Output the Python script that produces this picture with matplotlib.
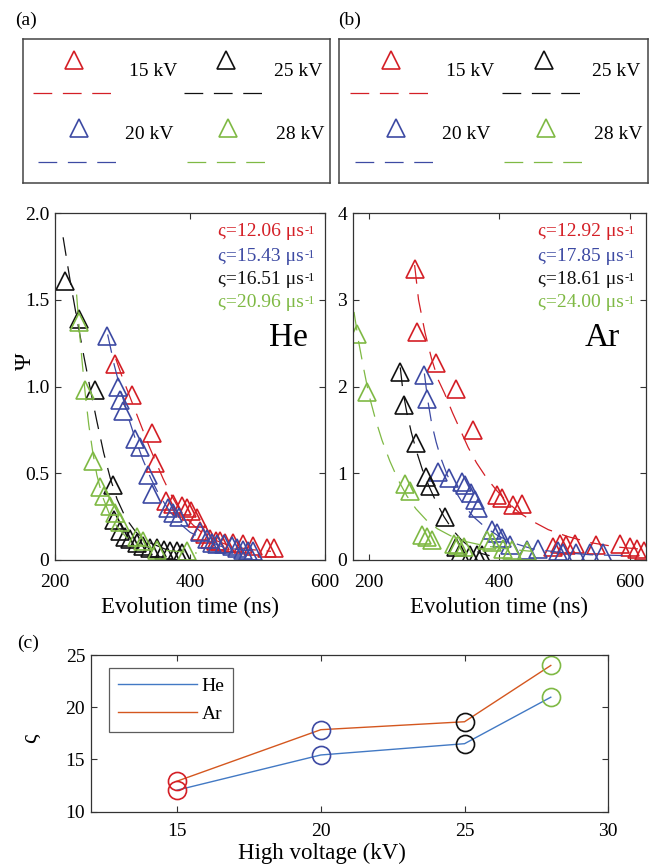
import matplotlib
matplotlib.use("Agg")
import matplotlib.pyplot as plt
import numpy as np

plt.rcParams["font.family"] = ["Liberation Serif", "DejaVu Serif"]
plt.rcParams["axes.linewidth"] = 0.9

RED = "#d41f26"
BLUE = "#3d4aa3"
BLACK = "#111111"
GREEN = "#7fb944"
SPINE = "#333333"

voltages_kv = [15, 20, 25, 28]
series_colors = [RED, BLUE, BLACK, GREEN]
voltage_labels = ["15 kV", "20 kV", "25 kV", "28 kV"]

# ---- He: measured decay points (time in ns, Psi) ----
he_red_t = [289, 314, 343, 348, 365, 375, 388, 395, 402, 410, 415, 422, 430, 438, 444, 452, 464, 478, 494, 514, 524]
he_red_y = [1.13, 0.95, 0.73, 0.56, 0.34, 0.32, 0.31, 0.30, 0.28, 0.24, 0.17, 0.15, 0.12, 0.11, 0.11, 0.10, 0.10, 0.09, 0.08, 0.07, 0.07]
he_blue_t = [277, 294, 296, 301, 318, 326, 338, 343, 368, 375, 383, 415, 425, 432, 440, 450, 462, 470, 478, 486, 494]
he_blue_y = [1.29, 1.00, 0.92, 0.86, 0.70, 0.65, 0.49, 0.38, 0.30, 0.27, 0.25, 0.16, 0.12, 0.10, 0.09, 0.09, 0.08, 0.07, 0.06, 0.05, 0.05]
he_black_t = [215, 235, 259, 286, 287, 296, 304, 311, 321, 331, 341, 351, 361, 370, 380, 388]
he_black_y = [1.61, 1.39, 0.98, 0.43, 0.23, 0.17, 0.13, 0.12, 0.10, 0.08, 0.07, 0.07, 0.06, 0.05, 0.05, 0.04]
he_green_t = [236, 244, 256, 266, 272, 282, 289, 296, 321, 331, 351, 395]
he_green_y = [1.37, 0.98, 0.57, 0.42, 0.37, 0.31, 0.27, 0.22, 0.13, 0.11, 0.06, 0.05]

# ---- He: exponential fit curves (dashed) ----
he_red_fit_t = [290, 300, 310, 320, 330, 340, 350, 360, 370, 380, 390, 405, 420, 440, 460, 490, 520]
he_red_fit_y = [1.16, 1.05, 0.95, 0.85, 0.75, 0.65, 0.56, 0.47, 0.39, 0.32, 0.26, 0.20, 0.15, 0.11, 0.08, 0.06, 0.05]
he_blue_fit_t = [278, 288, 298, 308, 318, 330, 342, 355, 370, 385, 400, 420, 445, 470, 500]
he_blue_fit_y = [1.30, 1.12, 0.97, 0.83, 0.71, 0.58, 0.47, 0.37, 0.28, 0.21, 0.16, 0.12, 0.08, 0.06, 0.05]
he_black_fit_t = [212, 222, 232, 242, 252, 262, 272, 282, 292, 305, 320, 340, 365, 390]
he_black_fit_y = [1.86, 1.62, 1.40, 1.19, 0.99, 0.80, 0.62, 0.47, 0.35, 0.24, 0.16, 0.10, 0.06, 0.05]
he_green_fit_t = [232, 236, 240, 245, 250, 256, 262, 270, 280, 292, 306, 325, 350, 380, 410]
he_green_fit_y = [1.53, 1.33, 1.15, 0.95, 0.78, 0.62, 0.49, 0.37, 0.27, 0.19, 0.13, 0.09, 0.06, 0.05, 0.04]

# ---- Ar: measured decay points ----
ar_red_t = [271, 274, 303, 333, 359, 396, 404, 421, 434, 483, 493, 503, 516, 549, 585, 600, 611, 622]
ar_red_y = [3.36, 2.63, 2.27, 1.97, 1.50, 0.75, 0.71, 0.63, 0.65, 0.15, 0.19, 0.17, 0.19, 0.17, 0.19, 0.15, 0.13, 0.10]
ar_blue_t = [285, 289, 306, 322, 342, 347, 357, 362, 368, 388, 396, 404, 416, 442, 460, 490, 498, 518, 539, 559]
ar_blue_y = [2.13, 1.86, 1.02, 0.94, 0.90, 0.86, 0.77, 0.69, 0.60, 0.35, 0.31, 0.25, 0.17, 0.12, 0.13, 0.10, 0.08, 0.08, 0.08, 0.08]
ar_black_t = [248, 254, 272, 288, 294, 317, 334, 340, 355, 365, 373]
ar_black_y = [2.17, 1.79, 1.35, 0.96, 0.85, 0.50, 0.15, 0.08, 0.06, 0.06, 0.06]
ar_green_t = [181, 197, 255, 263, 281, 289, 296, 330, 337, 345, 381, 388, 406, 419, 442]
ar_green_y = [2.61, 1.94, 0.88, 0.79, 0.29, 0.27, 0.23, 0.19, 0.17, 0.15, 0.23, 0.21, 0.13, 0.12, 0.10]

# ---- Ar: exponential fit curves (dashed) ----
ar_red_fit_t = [270, 276, 286, 296, 306, 316, 328, 340, 352, 365, 380, 396, 412, 430, 450, 475, 505, 540, 580, 625]
ar_red_fit_y = [3.40, 3.00, 2.62, 2.32, 2.08, 1.92, 1.70, 1.50, 1.30, 1.12, 0.95, 0.80, 0.67, 0.55, 0.45, 0.35, 0.27, 0.20, 0.15, 0.12]
ar_blue_fit_t = [285, 290, 296, 303, 310, 320, 332, 345, 360, 378, 398, 420, 450, 490, 540, 600]
ar_blue_fit_y = [2.15, 1.85, 1.58, 1.36, 1.18, 0.98, 0.80, 0.64, 0.50, 0.38, 0.28, 0.20, 0.13, 0.09, 0.06, 0.05]
ar_black_fit_t = [248, 252, 258, 265, 273, 282, 292, 303, 315, 328, 342, 356, 370, 385]
ar_black_fit_y = [2.22, 1.95, 1.70, 1.47, 1.25, 1.04, 0.85, 0.67, 0.50, 0.35, 0.23, 0.14, 0.08, 0.05]
ar_green_fit_t = [177, 184, 192, 200, 210, 220, 232, 245, 258, 272, 288, 305, 325, 350, 380, 420, 450]
ar_green_fit_y = [2.86, 2.52, 2.20, 1.90, 1.62, 1.38, 1.14, 0.92, 0.74, 0.59, 0.46, 0.36, 0.28, 0.21, 0.16, 0.12, 0.10]

# ---- decay rates (us^-1) ----
he_rates = [12.06, 15.43, 16.51, 20.96]
ar_rates = [12.92, 17.85, 18.61, 24.00]

W, H = 659, 866
fig = plt.figure(figsize=(W / 100, H / 100), dpi=100)


def box(l, t, r, b):
    return [l / W, 1 - b / H, (r - l) / W, (b - t) / H]


def fx(px):
    return px / W


def fy(py):
    return 1 - py / H


DASH = (0, (15, 8.5))


def style_axes(ax, size, xpad):
    for s in ax.spines.values():
        s.set_color(SPINE)
        s.set_linewidth(0.9)
    ax.tick_params(direction="in", top=True, right=True, length=4,
                   width=0.8, color=SPINE, labelsize=size)
    ax.tick_params(axis="x", pad=xpad)
    ax.tick_params(axis="y", pad=4)


def decay_panel(ax, pts, fits, xlim, ylim, yticks, yticklabels):
    for (t, y), (ft, fy_), c in zip(pts, fits, series_colors):
        ax.plot(ft, fy_, color=c, lw=0.9, ls=DASH)
        ax.plot(t, y, ls="none", marker="^", ms=13.5, mfc="none",
                mec=c, mew=1.2)
    ax.set_xlim(*xlim)
    ax.set_ylim(*ylim)
    ax.set_xticks([200, 400, 600])
    ax.set_yticks(yticks)
    ax.set_yticklabels(yticklabels)
    style_axes(ax, 14, 10)
    ax.set_xlabel("Evolution time (ns)", fontsize=16.5, labelpad=4)
    return ax


ax_a = fig.add_axes(box(55, 213, 325, 560))
decay_panel(ax_a,
            [(he_red_t, he_red_y), (he_blue_t, he_blue_y),
             (he_black_t, he_black_y), (he_green_t, he_green_y)],
            [(he_red_fit_t, he_red_fit_y), (he_blue_fit_t, he_blue_fit_y),
             (he_black_fit_t, he_black_fit_y), (he_green_fit_t, he_green_fit_y)],
            (200, 600), (0, 2.0),
            [0, 0.5, 1.0, 1.5, 2.0], ["0", "0.5", "1.0", "1.5", "2.0"])

ax_b = fig.add_axes(box(352.7, 213, 646, 560))
decay_panel(ax_b,
            [(ar_red_t, ar_red_y), (ar_blue_t, ar_blue_y),
             (ar_black_t, ar_black_y), (ar_green_t, ar_green_y)],
            [(ar_red_fit_t, ar_red_fit_y), (ar_blue_fit_t, ar_blue_fit_y),
             (ar_black_fit_t, ar_black_fit_y), (ar_green_fit_t, ar_green_fit_y)],
            (175, 625), (0, 4),
            [0, 1, 2, 3, 4], ["0", "1", "2", "3", "4"])

# rate annotations (with a small raised "-1" unit exponent) and gas labels
rate_rows = [0.946, 0.876, 0.809, 0.742]
for ax, rates, xl in ((ax_a, he_rates, 0.604), (ax_b, ar_rates, 0.632)):
    for r, c, yy in zip(rates, series_colors, rate_rows):
        main = ax.text(xl, yy, "\u03c2=%.2f \u03bcs" % r,
                       transform=ax.transAxes, ha="left", va="center",
                       color=c, fontsize=14)
        ax.annotate("-1", xy=(1, 0.92), xycoords=main, xytext=(0.5, 0),
                    textcoords="offset points", ha="left", va="top",
                    color=c, fontsize=9)
ax_a.text(0.935, 0.64, "He", transform=ax_a.transAxes, ha="right",
          va="center", fontsize=24)
ax_b.text(0.911, 0.64, "Ar", transform=ax_b.transAxes, ha="right",
          va="center", fontsize=24)

fig.text(fx(25), fy(361), "\u03a8", rotation=90, ha="center",
         va="center", fontsize=17)

# ---- custom voltage legends above the decay panels ----
leg_rows = [
    # marker (x, y), dash span (x0, x1, y), label (x, y)
    ((0.167, 0.856), (0.034, 0.304, 0.626), (0.346, 0.772)),
    ((0.184, 0.381), (0.051, 0.319, 0.144), (0.333, 0.333)),
    ((0.662, 0.856), (0.526, 0.795, 0.626), (0.819, 0.772)),
    ((0.668, 0.381), (0.534, 0.803, 0.144), (0.825, 0.333)),
]
for rect in (box(22.7, 39.3, 330, 182.7), box(339.3, 39.3, 648, 182.7)):
    lg = fig.add_axes(rect)
    lg.set_xlim(0, 1)
    lg.set_ylim(0, 1)
    lg.set_xticks([])
    lg.set_yticks([])
    for s in lg.spines.values():
        s.set_color("#444444")
        s.set_linewidth(1.1)
    for (mk, dl, lb), c, txt in zip(leg_rows, series_colors, voltage_labels):
        lg.plot([dl[0], dl[1]], [dl[2], dl[2]], color=c, lw=0.9, ls=DASH)
        lg.plot([mk[0]], [mk[1]], ls="none", marker="^", ms=13.5, mfc="none",
                mec=c, mew=1.2)
        lg.text(lb[0], lb[1], txt, ha="left", va="center", fontsize=14)

fig.text(fx(15), fy(20), "(a)", ha="left", va="center", fontsize=14)
fig.text(fx(338), fy(20), "(b)", ha="left", va="center", fontsize=14)
fig.text(fx(17), fy(643), "(c)", ha="left", va="center", fontsize=14)

# ---- panel (c): rate versus voltage ----
ax_c = fig.add_axes(box(90.7, 655, 608.3, 811.7))
ax_c.plot(voltages_kv, he_rates, color="#4279c4", lw=1.0, label="He")
ax_c.plot(voltages_kv, ar_rates, color="#d4571f", lw=1.0, label="Ar")
for v, h, a, c in zip(voltages_kv, he_rates, ar_rates, series_colors):
    ax_c.plot([v, v], [h, a], ls="none", marker="o", ms=13, mfc="none",
              mec=c, mew=1.2)
ax_c.set_xlim(12, 30)
ax_c.set_ylim(10, 25)
ax_c.set_xticks([15, 20, 25, 30])
ax_c.set_yticks([10, 15, 20, 25])
style_axes(ax_c, 14, 8)
fig.text(fx(322), fy(853), "High voltage (kV)", ha="center", va="center",
         fontsize=16.5)
leg = ax_c.legend(loc="upper left",
                  bbox_to_anchor=((109 - 90.7) / 517.6, (811.7 - 668.3) / 156.7),
                  borderaxespad=0, fontsize=14, frameon=True, fancybox=False,
                  edgecolor="#333333", handlelength=4.1, borderpad=0.45,
                  labelspacing=0.55, handletextpad=0.2)
leg.get_frame().set_linewidth(0.9)
fig.text(fx(30), fy(738), "\u03c2", rotation=90, ha="center",
         va="center", fontsize=17)

fig.savefig("out.png", dpi=100)
